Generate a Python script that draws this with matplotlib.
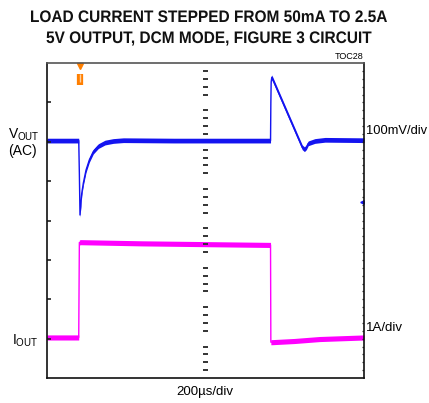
import matplotlib.pyplot as plt
import numpy as np
from matplotlib.textpath import TextPath
from matplotlib.font_manager import FontProperties
from matplotlib.patches import PathPatch
from matplotlib.transforms import Affine2D, IdentityTransform

plt.rcParams['font.family'] = ['Liberation Sans', 'DejaVu Sans']
plt.rcParams['mathtext.default'] = 'regular'

# scope traces, in divisions (x: 10 div, y: 8 div centred on 0)
vout_t = [0.0, 1.0, 1.02, 1.04, 1.095, 1.145, 1.23, 1.335, 1.46, 1.62, 1.83,
          2.09, 2.41, 4.0, 7.05, 7.06, 7.07, 7.09, 8.05, 8.12, 8.18, 8.24,
          8.45, 8.77, 10.0]
vout_v = [2.03, 2.03, 1.2, 0.14, 0.69, 0.95, 1.28, 1.54, 1.75, 1.89, 1.98,
          2.02, 2.04, 2.03, 2.03, 3.0, 3.52, 3.64, 1.86, 1.81, 1.86, 1.96,
          2.02, 2.05, 2.04]

iout_t = [0.0, 1.0, 1.02, 1.05, 3.0, 5.0, 7.05, 7.06, 7.1, 7.8, 8.6, 10.0]
iout_v = [-2.97, -2.97, -0.56, -0.55, -0.58, -0.6, -0.62, -3.09, -3.09,
          -3.06, -3.01, -2.97]

title_lines = ["LOAD CURRENT STEPPED FROM 50mA TO 2.5A",
               "5V OUTPUT, DCM MODE, FIGURE 3 CIRCUIT"]

fig = plt.figure(figsize=(4.29, 4.03), dpi=100)
ax = fig.add_axes([0.1096, 0.062, 0.739, 0.7816])
ax.set_xlim(0, 10)
ax.set_ylim(-4, 4)


def trace(t, v, color, half):
    t = np.asarray(t)
    v = np.asarray(v)
    ax.fill_between(t, v - half, v + half, color=color, lw=0)
    ax.plot(t, v, color=color, lw=1.0)


trace(vout_t, vout_v, '#1414f0', 0.06)
trace(iout_t, iout_v, '#ff00ff', 0.065)

# graticule: centre line with minor ticks, major ticks on left edge
for yy in np.arange(-4, 4.01, 0.2):
    if abs(yy - round(yy)) > 1e-6:
        ax.plot([4.93, 5.07], [yy, yy], color='#333333', lw=1.4, solid_capstyle='butt')
for yy in range(-3, 4):
    ax.plot([0, 0.13], [yy, yy], color='#222222', lw=1.2, solid_capstyle='butt')
for yy in np.arange(-3.8, 4.0, 0.2):
    ax.plot([9.93, 10], [yy, yy], color='#333333', lw=0.9, solid_capstyle='butt')

ax.set_xticks([])
ax.set_yticks([])
for side in ['left', 'right', 'bottom']:
    ax.spines[side].set_color('#111111')
    ax.spines[side].set_linewidth(1.2)
ax.spines['top'].set_color('#555555')
ax.spines['top'].set_linewidth(1.2)

# trigger and reference markers
ax.plot([1.04], [3.93], marker='v', color='#ff7f00', ms=5, clip_on=False)
ax.plot([1.04, 1.04], [3.45, 3.72], color='#ff7f00', lw=4.5, solid_capstyle='butt')
ax.plot([1.04, 1.04], [3.52, 3.72], color='#ffd0a0', lw=1, solid_capstyle='butt')
ax.plot([9.94], [0.47], marker='<', color='#1414f0', ms=2.5)

# condensed bold title drawn as squeezed text paths (pixel coordinates)
fp = FontProperties(family='Liberation Sans', weight='bold')
for line, width, base in zip(title_lines, [356, 325], [381, 360]):
    tp = TextPath((0, 0), line, size=16.7, prop=fp)
    ext = tp.get_extents()
    sx = width / ext.width
    tr = Affine2D().translate(-ext.x0 - ext.width / 2, 0).scale(sx, 1).translate(209, base)
    fig.add_artist(PathPatch(tr.transform_path(tp), transform=IdentityTransform(),
                             color='#111111', lw=0))

fig.text(0.847, 0.848, "TOC28", ha='right', va='bottom', fontsize=6.5)

fig.text(0.055, 0.665, r"V$_{OUT}$", ha='center', va='center', fontsize=10)
fig.text(0.052, 0.625, "(AC)", ha='center', va='center', fontsize=10)
fig.text(0.058, 0.155, r"I$_{OUT}$", ha='center', va='center', fontsize=10)
fig.text(0.853, 0.675, "100mV/div", ha='left', va='center', fontsize=9.3)
fig.text(0.853, 0.186, "1A/div", ha='left', va='center', fontsize=9.5)
fig.text(0.478, 0.027, "200\u00b5s/div", ha='center', va='center', fontsize=9.5)

fig.savefig('out.png', dpi=100)
